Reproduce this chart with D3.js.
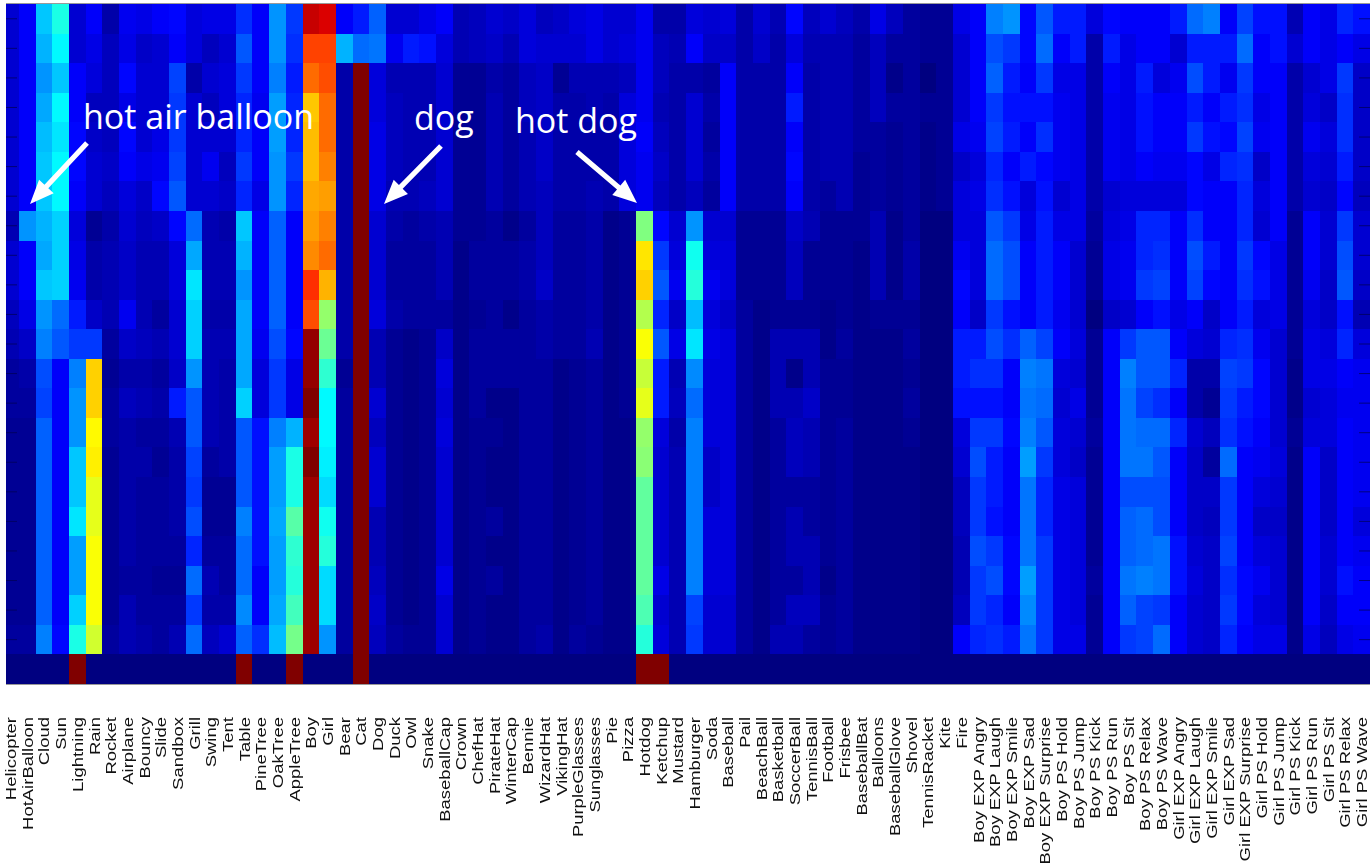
<!DOCTYPE html>
<html>
<head>
<meta charset="utf-8">
<script src="https://cdn.jsdelivr.net/npm/d3@7"></script>
<style>
    html, body { margin: 0; padding: 0; background: white; }
    svg { display: block; }
</style>
</head>
<body>
<div id="viz"></div>
<script>

/* * * * * * * * * * * * * *
*         DATA             *
* * * * * * * * * * * * * */

const categories = ["Helicopter", "HotAirBalloon", "Cloud", "Sun", "Lightning", "Rain", "Rocket", "Airplane", "Bouncy", "Slide",
    "Sandbox", "Grill", "Swing", "Tent", "Table", "PineTree", "OakTree", "AppleTree", "Boy", "Girl",
    "Bear", "Cat", "Dog", "Duck", "Owl", "Snake", "BaseballCap", "Crown", "ChefHat", "PirateHat",
    "WinterCap", "Bennie", "WizardHat", "VikingHat", "PurpleGlasses", "Sunglasses", "Pie", "Pizza", "Hotdog", "Ketchup",
    "Mustard", "Hamburger", "Soda", "Baseball", "Pail", "BeachBall", "Basketball", "SoccerBall", "TennisBall", "Football",
    "Frisbee", "BaseballBat", "Balloons", "BaseballGlove", "Shovel", "TennisRacket", "Kite", "Fire",
    "Boy EXP Angry", "Boy EXP Laugh", "Boy EXP Smile", "Boy EXP Sad", "Boy EXP Surprise",
    "Boy PS Hold", "Boy PS Jump", "Boy PS Kick", "Boy PS Run", "Boy PS Sit", "Boy PS Relax", "Boy PS Wave",
    "Girl EXP Angry", "Girl EXP Laugh", "Girl EXP Smile", "Girl EXP Sad", "Girl EXP Surprise",
    "Girl PS Hold", "Girl PS Jump", "Girl PS Kick", "Girl PS Run", "Girl PS Sit", "Girl PS Relax", "Girl PS Wave"];

// one list per category, top row to bottom row, 0-100 on the colour scale
const columnValues = [
    [8,8,8,8,8,8,8,5,8,8,6,5,3,3,2,2,2,2,2,2,2,3,0],
    [12,12,12,12,12,12,12,27,12,12,10,7,4,3,2,2,2,2,2,2,2,3,0],
    [32,30,27,29,31,32,32,30,29,32,27,25,20,19,22,22,22,22,22,22,22,25,0],
    [40,37,32,37,35,37,37,33,33,33,23,21,12,12,12,12,12,12,12,12,12,13,0],
    [8,8,12,12,13,13,12,9,10,11,15,18,25,27,27,32,32,35,28,28,33,40,100],
    [12,10,9,6,7,8,8,2,4,4,7,18,67,67,63,64,60,60,62,62,62,58,0],
    [4,6,6,6,6,7,6,4,5,5,5,3,2,3,3,2,2,2,2,2,2,3,0],
    [11,10,13,10,13,12,9,8,7,7,11,7,4,6,4,4,4,4,4,3,5,5,0],
    [10,7,8,8,8,10,7,6,5,5,5,6,4,5,3,4,3,3,3,3,3,4,0],
    [12,8,8,8,10,11,13,7,5,5,3,5,3,4,3,2,3,3,3,2,3,3,0],
    [13,12,19,18,18,19,21,13,9,9,8,8,7,15,5,4,4,4,3,2,3,5,0],
    [9,9,4,8,8,8,8,23,29,35,33,33,27,21,21,19,18,20,16,23,18,23,0],
    [10,6,8,6,8,11,8,5,5,5,4,5,5,5,5,3,2,2,3,5,4,6,0],
    [10,8,9,9,8,6,7,4,5,5,4,5,4,4,4,4,2,2,3,3,4,8,0],
    [17,21,18,16,16,18,16,32,30,27,29,29,29,33,21,21,21,25,23,23,26,22,100],
    [12,12,12,11,12,12,10,12,12,12,12,11,9,9,14,14,14,14,14,12,12,17,0],
    [27,27,25,28,28,27,27,22,22,22,22,20,18,18,25,28,28,29,28,28,29,31,0],
    [18,17,15,16,16,18,16,12,12,12,12,13,10,10,30,40,40,46,42,41,44,49,100],
    [93,81,77,68,69,69,71,72,74,83,80,98,98,100,97,100,97,97,97,97,97,97,0],
    [91,81,80,77,77,75,72,75,77,70,52,48,42,37,37,36,34,39,41,34,34,27,0],
    [12,30,4,4,4,4,4,4,4,4,4,4,2,3,3,3,3,3,3,3,3,3,0],
    [15,23,100,100,100,100,100,100,100,100,100,100,100,100,100,100,100,100,100,100,100,100,100],
    [22,24,9,9,10,10,10,8,8,8,9,5,5,8,6,8,8,5,5,6,7,6,0],
    [8,11,5,6,6,6,5,4,3,3,4,2,2,2,2,2,2,2,2,2,2,3,0],
    [8,15,5,5,5,5,5,3,3,3,3,1,1,1,1,1,1,1,1,1,1,2,0],
    [10,14,5,5,5,5,6,4,3,3,3,2,2,2,2,2,2,2,2,2,2,2,0],
    [12,9,8,8,8,8,8,5,5,5,3,7,9,8,9,8,8,8,8,10,8,8,0],
    [5,5,2,2,2,2,2,2,1,1,1,1,1,1,1,1,1,1,1,1,1,1,0],
    [6,6,2,2,2,2,2,2,3,3,2,3,3,3,2,2,2,2,2,2,2,2,0],
    [8,7,4,5,5,5,5,3,3,3,3,3,3,1,2,1,1,3,1,3,1,1,0],
    [7,5,3,3,3,3,3,1,3,3,1,3,3,1,1,1,1,1,1,1,1,1,0],
    [9,9,6,6,5,5,5,3,4,4,3,3,3,3,3,3,3,3,3,3,3,3,0],
    [6,8,7,7,7,7,6,6,6,7,4,4,3,3,3,3,3,3,3,3,3,4,0],
    [7,8,2,4,4,4,4,3,3,3,3,3,1,1,1,1,1,1,1,1,1,1,0],
    [9,8,5,4,4,4,4,3,3,3,3,3,2,2,2,2,2,2,2,2,2,3,0],
    [10,10,5,5,4,4,5,4,4,4,4,5,3,3,3,3,3,3,3,3,3,2,0],
    [8,8,5,4,4,4,4,1,1,1,1,1,1,1,1,1,1,1,1,1,1,1,0],
    [8,9,6,9,9,9,9,2,2,2,2,2,2,2,1,1,1,1,1,1,1,1,0],
    [11,11,11,11,12,11,11,50,65,67,55,62,57,60,52,51,47,47,47,47,45,41,100],
    [4,6,6,5,6,7,6,13,18,21,16,21,15,15,9,8,8,8,8,10,8,9,100],
    [4,5,4,4,4,4,4,8,9,11,7,10,5,6,4,5,5,5,5,5,5,5,0],
    [9,12,4,8,8,8,6,27,39,41,31,35,26,23,25,25,25,25,25,25,19,18,0],
    [8,7,3,4,3,4,3,8,9,11,9,10,9,9,9,7,7,9,9,9,8,8,0],
    [9,7,12,12,12,12,12,8,9,9,7,9,9,9,9,9,9,9,9,9,8,8,0],
    [4,4,4,4,4,4,4,2,2,2,3,3,3,3,3,3,3,3,3,3,3,3,0],
    [8,7,4,4,4,4,4,2,2,2,1,1,1,1,1,1,1,1,1,1,1,1,0],
    [5,4,4,4,4,4,4,2,2,2,2,5,5,5,3,3,3,3,3,3,3,5,0],
    [13,9,12,15,12,13,12,7,6,6,2,5,1,5,6,6,3,5,5,3,6,5,0],
    [6,5,4,4,4,4,4,5,2,2,2,5,5,7,5,5,3,3,5,5,6,3,0],
    [8,5,5,5,5,5,3,2,2,2,1,1,2,2,2,2,2,2,2,1,2,2,0],
    [6,5,5,5,5,5,5,2,2,2,2,3,2,2,3,3,3,3,3,3,3,3,0],
    [4,3,3,3,3,2,2,2,1,1,1,1,1,1,1,1,1,1,1,1,1,1,0],
    [10,6,6,6,3,3,3,5,5,5,2,1,1,1,1,1,1,1,1,1,1,1,0],
    [6,3,1,3,2,2,2,1,1,1,2,1,1,1,1,1,1,1,1,1,1,1,0],
    [3,3,3,3,3,3,3,3,4,4,2,3,2,3,2,1,1,1,1,1,1,1,0],
    [2,2,0,2,1,1,1,0,0,0,0,0,0,0,0,0,0,0,0,0,0,0,0],
    [2,2,2,2,2,2,2,0,0,0,0,0,0,0,0,0,0,0,0,0,0,0,0],
    [10,8,8,8,10,7,9,9,11,13,12,15,15,14,9,8,6,6,5,5,6,12,0],
    [12,12,12,12,11,9,10,9,9,9,7,15,17,14,18,20,18,18,20,18,18,16,0],
    [25,20,22,18,19,16,17,21,23,23,18,20,17,14,18,15,15,14,18,20,16,17,0],
    [27,18,15,14,15,12,14,18,20,20,14,17,12,12,13,12,12,12,13,13,12,15,0],
    [13,13,12,14,12,15,9,10,12,12,12,22,25,24,25,28,24,24,24,28,26,24,0],
    [21,23,18,14,17,13,14,15,15,15,15,19,24,23,21,18,16,16,18,18,18,18,0],
    [15,12,10,11,11,11,8,10,12,12,11,12,9,8,9,9,10,10,10,10,10,10,0],
    [15,15,10,10,10,10,10,10,8,8,8,9,8,10,8,7,9,9,9,9,9,10,0],
    [9,4,4,4,4,4,4,3,2,2,0,2,2,2,3,2,2,2,2,3,2,2,0],
    [13,15,12,11,11,11,8,9,10,10,7,12,12,12,12,12,12,12,12,12,12,12,0],
    [12,10,10,10,10,10,9,10,11,11,8,18,25,24,24,24,20,22,22,24,22,18,0],
    [12,12,15,14,14,12,9,16,16,18,12,21,21,19,23,24,20,23,23,25,19,19,0],
    [12,12,9,12,12,11,9,16,17,19,14,21,21,17,23,21,20,20,24,24,18,23,0],
    [15,8,11,12,12,11,9,12,12,12,10,12,16,12,16,12,12,12,14,14,12,12,0],
    [23,15,20,15,18,13,13,17,20,19,12,9,4,4,8,7,7,7,8,9,8,8,0],
    [25,15,15,12,14,10,12,12,15,13,7,8,4,2,6,3,7,6,7,7,7,7,0],
    [12,15,11,15,13,16,12,12,12,12,12,16,19,18,17,23,18,18,19,17,18,16,0],
    [19,23,18,17,19,17,16,16,18,17,15,17,18,15,14,12,12,12,12,13,13,12,0],
    [14,12,12,10,11,7,9,8,13,14,9,11,13,13,12,11,9,7,9,11,9,10,0],
    [14,14,12,12,12,12,12,12,10,10,10,8,8,8,8,9,8,7,8,8,8,10,0],
    [5,8,4,4,4,4,4,2,2,2,2,2,1,1,2,1,1,1,1,1,1,1,0],
    [12,12,8,9,11,9,8,12,12,11,9,10,10,8,9,12,12,12,12,12,12,10,0],
    [10,10,10,7,9,8,7,8,8,7,7,9,10,9,9,7,7,7,8,8,7,6,0],
    [16,12,18,17,17,15,13,18,20,21,14,16,12,11,12,12,12,12,12,14,12,10,0],
    [14,10,7,7,7,7,6,8,8,7,5,9,11,11,11,11,11,9,11,12,12,11,0]
];

// row ids, the picture has no row names
const rowIds = d3.range(23);

const annotationTexts = [
    {text: "hot air balloon", x: 83, y: 129},
    {text: "dog", x: 414, y: 130},
    {text: "hot dog", x: 515, y: 133}
];

// [from x, from y, tip x, tip y]
const annotationArrows = [
    [87, 143, 30, 204],
    [441, 146, 384, 204],
    [577, 152, 637, 203]
];


/* * * * * * * * * * * * * *
*         CHART            *
* * * * * * * * * * * * * */

const width = 1370;
const height = 866;
const plot = {left: 6, right: 1370, top: 4, bottom: 684};

const svg = d3.select("#viz").append("svg")
    .attr("width", width)
    .attr("height", height);

svg.append("defs").append("clipPath")
    .attr("id", "plot-clip")
    .append("rect")
    .attr("x", plot.left)
    .attr("y", plot.top)
    .attr("width", plot.right - plot.left)
    .attr("height", plot.bottom - plot.top);

// first column starts a little left of the crop
const x = d3.scaleBand()
    .domain(categories)
    .range([2.3, 1370]);

const y = d3.scaleBand()
    .domain(rowIds)
    .range([plot.top, plot.bottom]);

// jet
const color = d3.scaleLinear()
    .domain([0, 12.5, 37.5, 62.5, 87.5, 100])
    .range(["#000080", "#0000ff", "#00ffff", "#ffff00", "#ff0000", "#800000"]);

const cells = [];
categories.forEach((c, i) => {
    columnValues[i].forEach((v, r) => {
        cells.push({category: c, row: r, value: v});
    });
});

svg.append("g")
    .attr("clip-path", "url(#plot-clip)")
    .style("filter", "blur(0.4px)")
    .selectAll("rect")
    .data(cells)
    .join("rect")
    .attr("x", d => x(d.category))
    .attr("y", d => y(d.row))
    .attr("width", x.bandwidth() + 0.5)
    .attr("height", y.bandwidth() + 0.5)
    .attr("shape-rendering", "crispEdges")
    .attr("fill", d => color(d.value));

// only top and bottom edges show in the picture
[plot.top - 0.5, plot.bottom + 0.5].forEach(pos => {
    svg.append("line")
        .attr("x1", plot.left)
        .attr("x2", plot.right)
        .attr("y1", pos)
        .attr("y2", pos)
        .attr("stroke", "#999")
        .attr("stroke-width", 1);
});

// row ticks on both sides, there is none for the last row
const tickRows = rowIds.slice(0, 22);

[[d3.axisRight(y), plot.left], [d3.axisLeft(y), plot.right]].forEach(([axis, pos]) => {
    const g = svg.append("g")
        .attr("transform", "translate(" + pos + ",0)")
        .call(axis.tickValues(tickRows).tickSize(11).tickFormat(""));
    g.select(".domain").remove();
    g.selectAll("line").attr("stroke", "#000050").attr("stroke-opacity", 0.7);
});

// category labels
const xAxis = svg.append("g")
    .attr("transform", "translate(0," + plot.bottom + ")")
    .style("filter", "blur(0.5px)")
    .call(d3.axisBottom(x).tickSize(0));

xAxis.select(".domain").remove();

xAxis.selectAll("text")
    .attr("font-family", "'Liberation Sans', Arial, sans-serif")
    .attr("font-size", 15.4)
    .attr("fill", "#111")
    .attr("text-anchor", "end")
    .attr("dy", null)
    .attr("dominant-baseline", "central")
    .attr("y", 0)
    .attr("transform", "translate(0.5,33) rotate(-90) scale(1.2,1)");

// annotations
svg.append("g")
    .selectAll("text")
    .data(annotationTexts)
    .join("text")
    .attr("x", d => d.x)
    .attr("y", d => d.y)
    .attr("font-family", "'Open Sans', 'Noto Sans', sans-serif")
    .attr("font-size", 34)
    .attr("fill", "white")
    .text(d => d.text);

function arrowPath(a) {
    const dx = a[2] - a[0];
    const dy = a[3] - a[1];
    const len = Math.sqrt(dx * dx + dy * dy);
    const ux = dx / len;
    const uy = dy / len;
    const headLen = 24;
    const shaft = 2.6;
    const head = 10;
    const bx = a[2] - ux * headLen;
    const by = a[3] - uy * headLen;
    const pts = [
        [a[0] - uy * shaft, a[1] + ux * shaft],
        [bx - uy * shaft, by + ux * shaft],
        [bx - uy * head, by + ux * head],
        [a[2], a[3]],
        [bx + uy * head, by - ux * head],
        [bx + uy * shaft, by - ux * shaft],
        [a[0] + uy * shaft, a[1] - ux * shaft]
    ];
    return "M" + pts.map(p => p.join(",")).join("L") + "Z";
}

svg.append("g")
    .selectAll("path")
    .data(annotationArrows)
    .join("path")
    .attr("d", arrowPath)
    .attr("fill", "white");

</script>
</body>
</html>
